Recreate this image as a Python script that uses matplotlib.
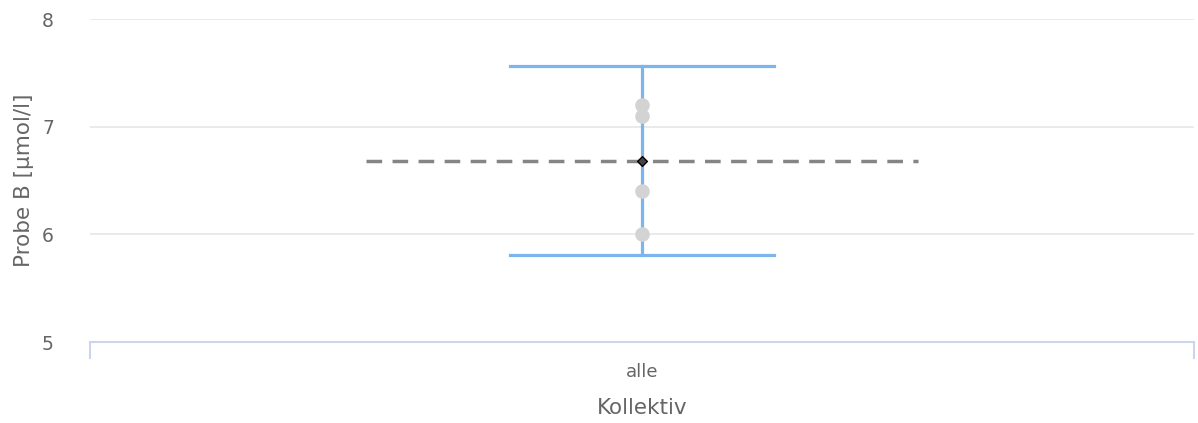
import matplotlib.pyplot as plt

# Daten
categories = ["alle"]
values = [7.2, 7.1, 6.4, 6.0]
mean_value = [6.68]
err_low = [5.81]
err_high = [7.56]

plt.rcParams['font.family'] = ['DejaVu Sans']

fig = plt.figure(figsize=(11.98, 4.23), dpi=100)
ax = fig.add_axes([90 / 1198, 1 - 342 / 423, 1104 / 1198, 323 / 423])

# Gitter
ax.set_ylim(5, 8)
ax.set_yticks([5, 6, 7, 8])
ax.set_xlim(-0.5, 0.5)
ax.grid(axis='y', color='#e6e6e6', linewidth=1.2)
ax.set_axisbelow(True)

for i, cat in enumerate(categories):
    # Fehlerbalken
    ax.plot([i, i], [err_low[i], err_high[i]], color='#7cb5ec', linewidth=2.3, zorder=2)
    ax.plot([i - 0.12, i + 0.12], [err_high[i], err_high[i]], color='#7cb5ec', linewidth=2.3, zorder=2)
    ax.plot([i - 0.12, i + 0.12], [err_low[i], err_low[i]], color='#7cb5ec', linewidth=2.3, zorder=2)
    # Einzelwerte
    ax.scatter([i] * len(values), values, s=110, color='#d3d3d3', zorder=3, linewidths=0)
    # Mittelwert
    ax.plot([i - 0.25, i + 0.25], [mean_value[i]] * 2, color='#858585', linewidth=2.5,
            linestyle=(0, (4.5, 3)), zorder=4)
    ax.scatter([i], [mean_value[i]], marker='D', s=25, color='#444444', edgecolors='black',
               linewidths=1, zorder=5)

# Achsen
for s in ['top', 'right', 'left']:
    ax.spines[s].set_visible(False)
ax.spines['bottom'].set_color('#ccd6eb')
ax.spines['bottom'].set_linewidth(1.5)
ax.tick_params(axis='y', length=0, labelsize=13.5, labelcolor='#666666', pad=26)
ax.set_xticks([0])
ax.set_xticklabels(categories)
ax.tick_params(axis='x', length=0, labelsize=13, labelcolor='#666666', pad=15)
for xb in [-0.5, 0.5]:
    ax.plot([xb, xb], [0, -0.05], transform=ax.get_xaxis_transform(), color='#ccd6eb',
            linewidth=1.5, clip_on=False)

ax.set_xlabel("Kollektiv", fontsize=15.5, color='#666666', labelpad=12)
ax.set_ylabel("Probe B [µmol/l]", fontsize=15.5, color='#666666', labelpad=6)

fig.savefig("out.png", dpi=100)
